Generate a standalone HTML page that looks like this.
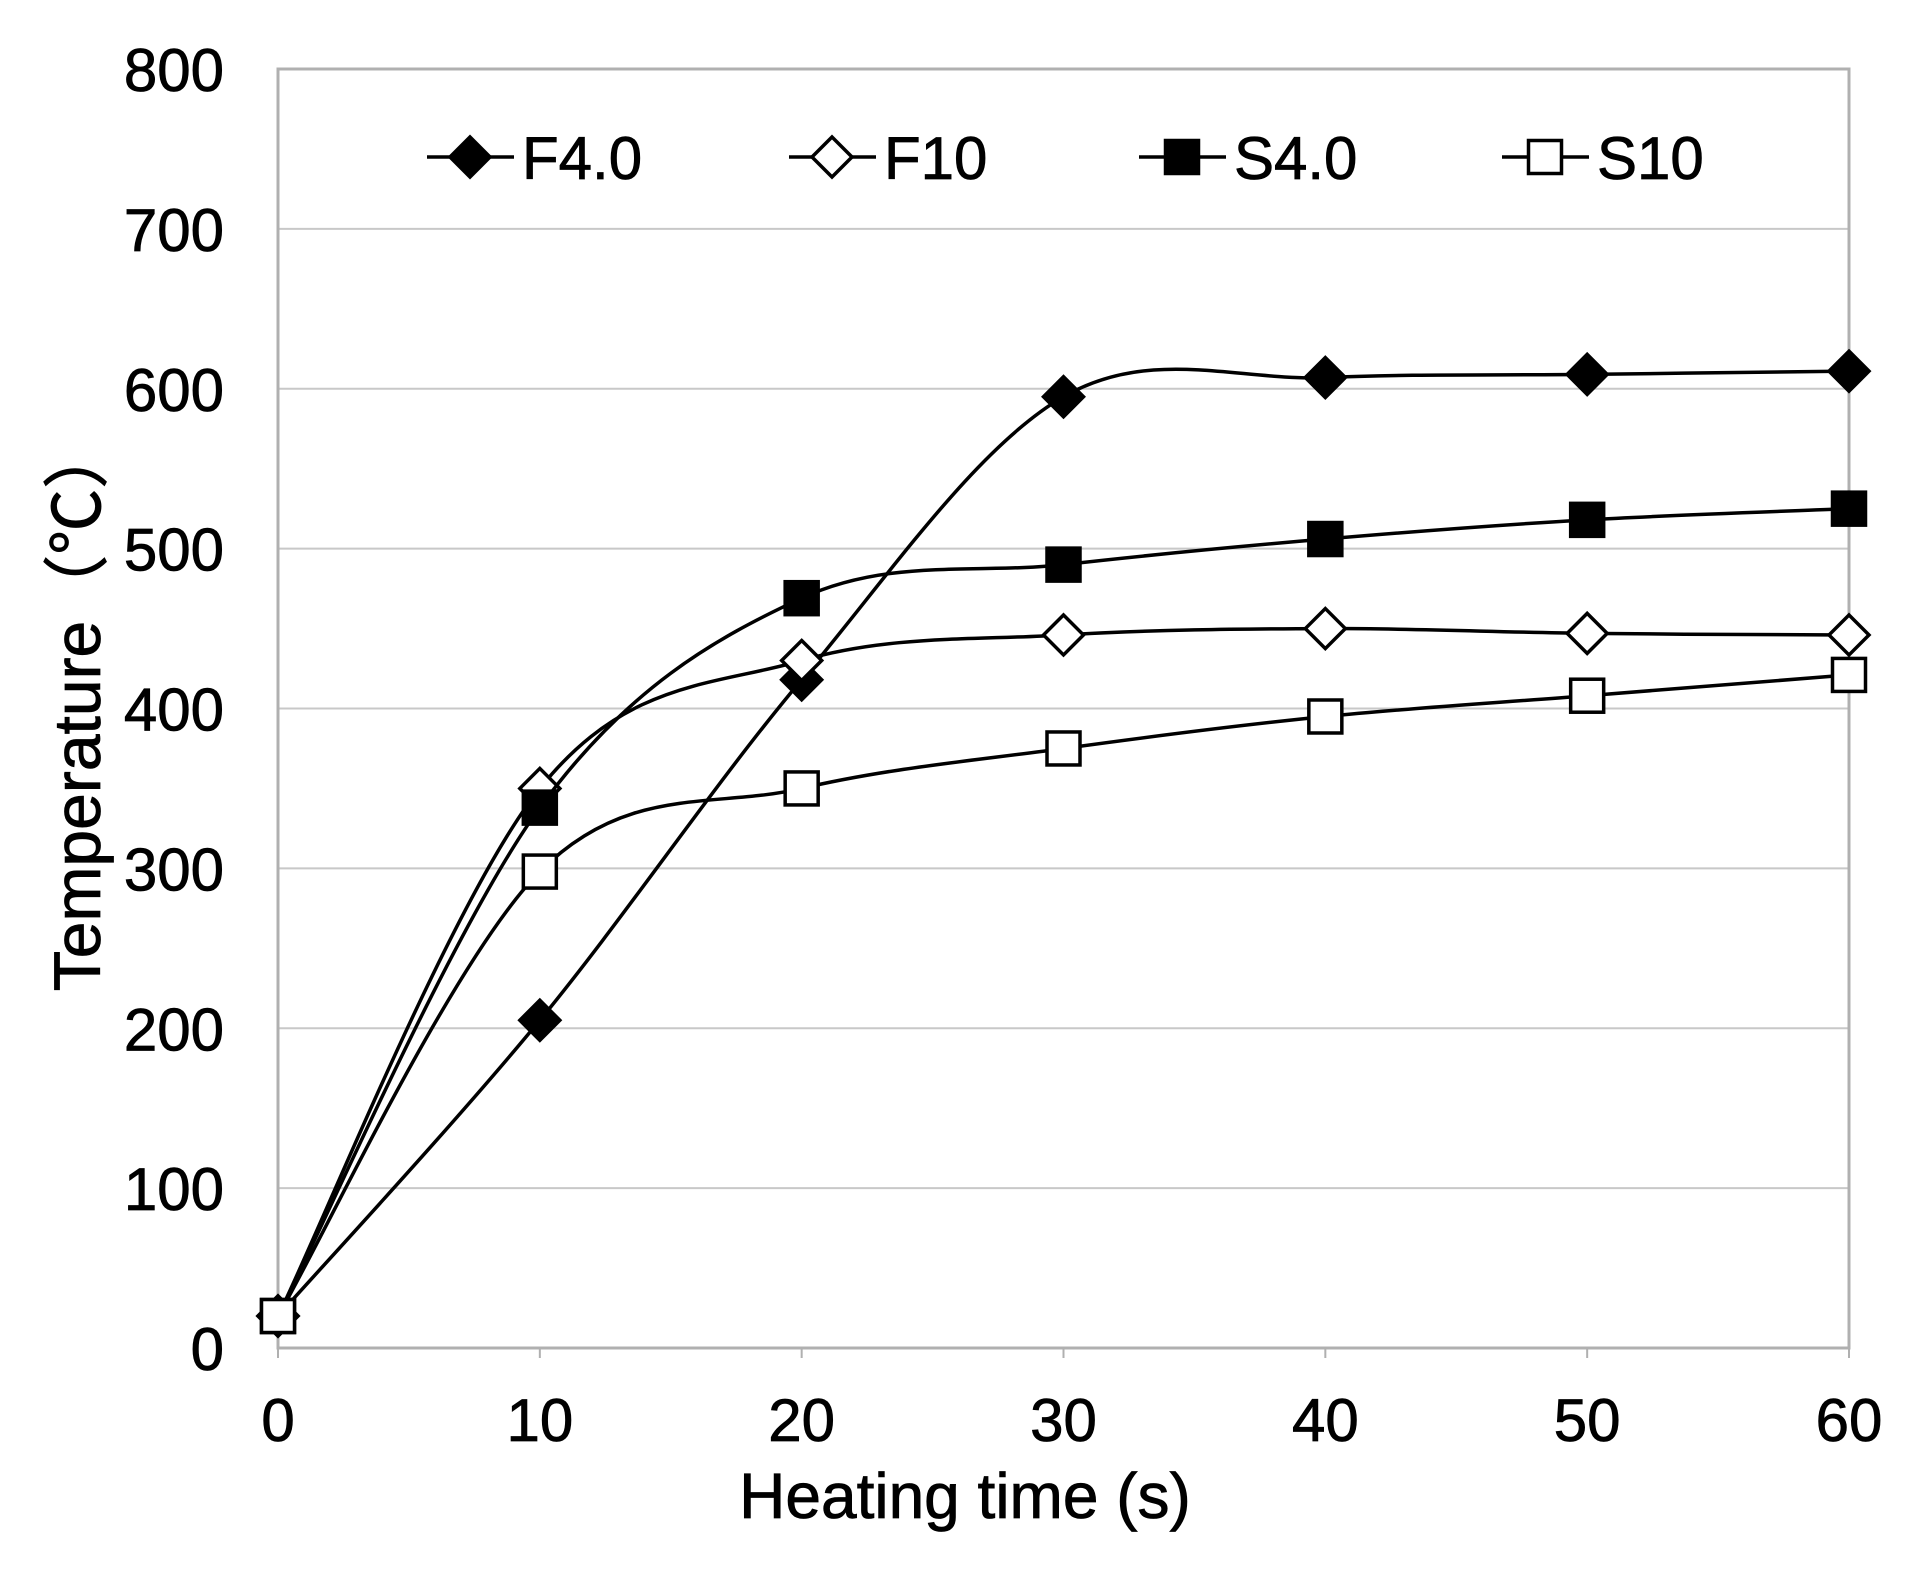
<!DOCTYPE html>
<html><head><meta charset="utf-8"><style>
html,body{margin:0;padding:0;background:#fff;}
svg text{font-family:"Liberation Sans","Noto Sans CJK SC",sans-serif;fill:#000;stroke:#000;stroke-width:0.8;}
</style></head><body>
<svg id="chart" width="1921" height="1571" viewBox="0 0 1921 1571" xmlns="http://www.w3.org/2000/svg">
<g id="grid"></g>
<rect x="278" y="69" width="1571" height="1279" fill="none" stroke="#b0b0b0" stroke-width="3"/>
<g id="ticks"></g>
<g id="series"></g>
<g id="legend"></g>
<text x="965" y="1518" font-size="64" text-anchor="middle">Heating  time (s)</text>
<text transform="translate(100,707) rotate(-90)" font-size="66" text-anchor="middle">Temperature（℃）</text>
</svg>
<script>
const xCategories = [0, 10, 20, 30, 40, 50, 60];
const yTicks = [0, 100, 200, 300, 400, 500, 600, 700, 800];
const seriesNames = ["F4.0", "F10", "S4.0", "S10"];
const f40 = [20, 205, 418, 595, 607, 609, 611];
const f10 = [20, 350, 430, 446, 450, 447, 446];
const s40 = [20, 338, 469, 490, 506, 518, 525];
const s10 = [20, 298, 350, 375, 395, 408, 421];

const NS = "http://www.w3.org/2000/svg";
const X0 = 278, X1 = 1849, Y0 = 1348, Y1 = 69;
function xs(v){ return X0 + (v - 0) / 60 * (X1 - X0); }
function ys(v){ return Y0 - (v - 0) / 800 * (Y0 - Y1); }
function mk(tag, attrs, parent){ const e = document.createElementNS(NS, tag); for (const k in attrs) e.setAttribute(k, attrs[k]); parent.appendChild(e); return e; }

const grid = document.getElementById('grid');
const ticks = document.getElementById('ticks');
yTicks.forEach(t => {
  if (t > 0 && t < 800) {
    const l = mk('line', {x1: X0, x2: X1, y1: ys(t), y2: ys(t), stroke: '#c8c8c8', 'stroke-width': 2}, grid);
    
    
  }
  const tx = mk('text', {x: 224, y: ys(t) + 22, 'font-size': 60, 'text-anchor': 'end'}, ticks);
  tx.textContent = t;
  
  
});
xCategories.forEach(c => {
  const tl = mk('line', {x1: xs(c), x2: xs(c), y1: Y0, y2: Y0 + 10, stroke: '#b0b0b0', 'stroke-width': 2}, ticks);
  
  
  const tx = mk('text', {x: xs(c), y: 1441, 'font-size': 60, 'text-anchor': 'middle'}, ticks);
  tx.textContent = c;
  
  
});

function smoothPath(vals){
  const p = vals.map((v, i) => [xs(xCategories[i]), ys(v)]);
  let d = 'M' + p[0][0] + ',' + p[0][1];
  for (let i = 0; i < p.length - 1; i++) {
    const p0 = p[i - 1] || p[i], p1 = p[i], p2 = p[i + 1], p3 = p[i + 2] || p[i + 1];
    const c1 = [p1[0] + (p2[0] - p0[0]) / 6, p1[1] + (p2[1] - p0[1]) / 6];
    const c2 = [p2[0] - (p3[0] - p1[0]) / 6, p2[1] - (p3[1] - p1[1]) / 6];
    d += ' C' + c1 + ' ' + c2 + ' ' + p2;
  }
  return d;
}
function marker(kind, cx, cy, parent){
  let e;
  if (kind === 'diamond') {
    const r = 20;
    e = mk('polygon', {points: [cx, cy - r, cx + r, cy, cx, cy + r, cx - r, cy].join(' ')}, parent);
  } else {
    const s = 33;
    e = mk('rect', {x: cx - s / 2, y: cy - s / 2, width: s, height: s}, parent);
  }
  return e;
}
const seriesData = [f40, f10, s40, s10];
const kinds = ['diamond', 'diamond', 'square', 'square'];
const fills = ['#000', '#fff', '#000', '#fff'];
const sg = document.getElementById('series');
seriesData.forEach((vals, si) => {
  const g = mk('g', {}, sg);
  
  
  const path = mk('path', {d: smoothPath(vals), fill: 'none', stroke: '#000', 'stroke-width': 3.5}, g);
  
  
  vals.forEach((v, i) => {
    const m = marker(kinds[si], xs(xCategories[i]), ys(v), g);
    m.setAttribute('fill', fills[si]);
    m.setAttribute('stroke', '#000');
    m.setAttribute('stroke-width', 3.5);
    
    
  });
});

const lg = document.getElementById('legend');
const legX = [470, 832, 1182, 1545];
seriesNames.forEach((n, i) => {
  const g = mk('g', {}, lg);
  
  
  const cy = 157;
  mk('line', {x1: legX[i] - 43, x2: legX[i] + 44, y1: cy, y2: cy, stroke: '#000', 'stroke-width': 3.5}, g);
  const m = marker(kinds[i], legX[i], cy, g);
  m.setAttribute('fill', fills[i]);
  m.setAttribute('stroke', '#000');
  m.setAttribute('stroke-width', 3.5);
  const t = mk('text', {x: legX[i] + 52, y: cy + 22, 'font-size': 60}, g);
  t.textContent = n;
});
</script>
</body></html>
